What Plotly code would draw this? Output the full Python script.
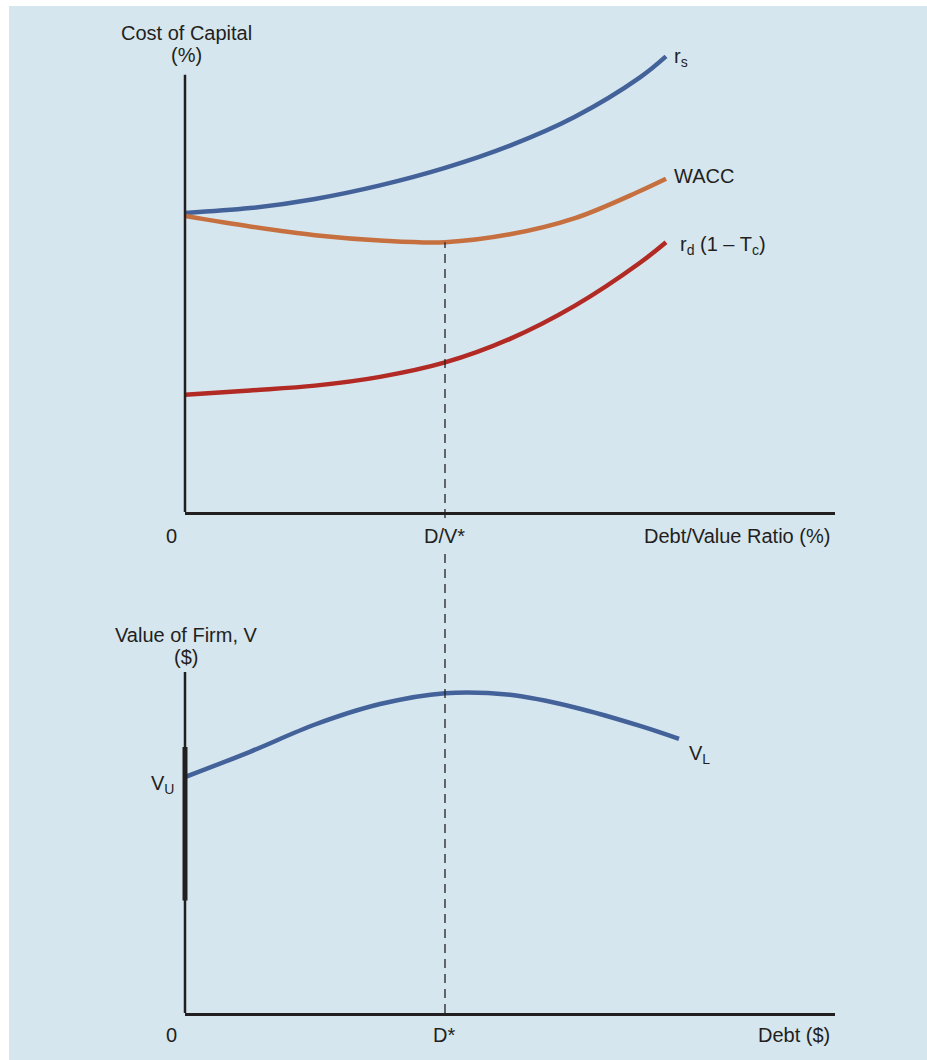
import plotly.graph_objects as go

# ---- data ----
# top panel: cost of capital vs debt/value ratio
dv_ratio = [0, 10, 20, 30, 40, 50, 60, 70, 74]
r_s = [68.4, 69.5, 71.6, 74.7, 78.7, 83.8, 90.4, 99.4, 104.2]
wacc = [67.7, 65.3, 63.3, 62.1, 61.7, 63.5, 67.2, 73.4, 76.2]
r_d_after_tax = [26.8, 27.8, 28.9, 30.9, 34.2, 39.6, 47.2, 57.0, 61.7]

# bottom panel: value of firm vs debt
debt = [0, 10, 20, 30, 40, 50, 60, 70, 76]
v_levered = [69.2, 76.6, 84.6, 90.6, 93.8, 93.3, 89.6, 84.2, 80.4]
v_unlevered_band = [33, 78]

optimum = 40  # D/V* and D*

W, H = 927, 1060
BG = '#d6e6ef'
INK = '#231f20'
BLUE = '#44629a'
ORANGE = '#c6703f'
RED = '#b22a24'
FONT = 'Liberation Sans, Arial, sans-serif'
FS = 20


def py(p):
    # pixel row -> paper y
    return 1 - p / H


def px(p):
    return p / W


x_dom = [px(185), px(835)]
top_dom = [py(512), py(31)]
bot_dom = [py(1013), py(672)]
top_range = [0, 110]
bot_range = [0, 100]

fig = go.Figure()

fig.add_trace(go.Scatter(x=dv_ratio, y=r_s, mode='lines', line=dict(color=BLUE, width=4.5, shape='spline'),
                         xaxis='x', yaxis='y', hoverinfo='skip'))
fig.add_trace(go.Scatter(x=dv_ratio, y=wacc, mode='lines', line=dict(color=ORANGE, width=4.5, shape='spline'),
                         xaxis='x', yaxis='y', hoverinfo='skip'))
fig.add_trace(go.Scatter(x=dv_ratio, y=r_d_after_tax, mode='lines', line=dict(color=RED, width=4.5, shape='spline'),
                         xaxis='x', yaxis='y', hoverinfo='skip'))
fig.add_trace(go.Scatter(x=debt, y=v_levered, mode='lines', line=dict(color=BLUE, width=4.5, shape='spline'),
                         xaxis='x2', yaxis='y2', hoverinfo='skip'))

axis_common = dict(showgrid=False, zeroline=False, showticklabels=False, ticks='', fixedrange=True)

fig.update_layout(
    width=W, height=H,
    margin=dict(l=0, r=0, t=0, b=0),
    paper_bgcolor='white',
    plot_bgcolor='rgba(0,0,0,0)',
    showlegend=False,
    font=dict(family=FONT, color=INK, size=FS),
    xaxis=dict(domain=x_dom, range=[0, 100], anchor='y', showline=True, linecolor=INK, linewidth=3, **axis_common),
    yaxis=dict(domain=top_dom, range=top_range, anchor='x', showline=False, **axis_common),
    xaxis2=dict(domain=x_dom, range=[0, 100], anchor='y2', showline=True, linecolor=INK, linewidth=3, **axis_common),
    yaxis2=dict(domain=bot_dom, range=bot_range, anchor='x2', showline=False, **axis_common),
)

# light blue panel, leaving the thin white edge at top and left
fig.add_shape(type='rect', xref='paper', yref='paper', x0=px(9), x1=1, y0=0, y1=py(6),
              fillcolor=BG, line=dict(width=0), layer='below')

# vertical axes (x in paper so the stroke is not clipped by the plot area)
fig.add_shape(type='line', xref='paper', yref='y', x0=x_dom[0], x1=x_dom[0], y0=0, y1=100,
              line=dict(color=INK, width=2.5))
fig.add_shape(type='line', xref='paper', yref='y2', x0=x_dom[0], x1=x_dom[0], y0=0, y1=100,
              line=dict(color=INK, width=2.5))
fig.add_shape(type='line', xref='paper', yref='y2', x0=x_dom[0], x1=x_dom[0],
              y0=v_unlevered_band[0], y1=v_unlevered_band[1], line=dict(color=INK, width=5))

# dashed line from WACC minimum down to the debt axis
wacc_min = min(wacc)
y_top = top_dom[0] + (wacc_min - top_range[0]) / (top_range[1] - top_range[0]) * (top_dom[1] - top_dom[0])
fig.add_shape(type='line', xref='x', yref='paper', x0=optimum, x1=optimum, y0=bot_dom[0], y1=y_top,
              line=dict(color=INK, width=1.3, dash='9px,6px'))


def label(text, x, y, xanchor='center', yanchor='middle', size=FS, bg=None):
    fig.add_annotation(text=text, x=x, y=y, xref='paper', yref='paper', xanchor=xanchor, yanchor=yanchor,
                       showarrow=False, font=dict(size=size, family=FONT, color=INK),
                       bgcolor=bg, borderpad=2)


# axis titles
label('Cost of Capital', px(186), py(33))
label('(%)', px(186), py(55))
label('Value of Firm, V', px(186), py(635))
label('($)', px(186), py(657))

# axis tick words
label('0', px(171), py(536))
label('D/V*', px(444), py(536), bg=BG)
label('Debt/Value Ratio (%)', px(833), py(536), xanchor='right')
label('0', px(171), py(1035))
label('D*', px(444), py(1035))
label('Debt ($)', px(833), py(1035), xanchor='right')

# curve names
label('r<sub>s</sub>', px(671), py(57), xanchor='left')
label('WACC', px(671), py(176), xanchor='left')
label('r<sub>d</sub> (1 – T<sub>c</sub>)', px(677), py(245), xanchor='left')
label('V<sub>U</sub>', px(177), py(784), xanchor='right')
label('V<sub>L</sub>', px(686), py(754), xanchor='left')

# drop the default page margin so the figure fills the window exactly
fig.write_html('out.html', config={'displayModeBar': False},
               post_script="document.body.style.margin='0';")
